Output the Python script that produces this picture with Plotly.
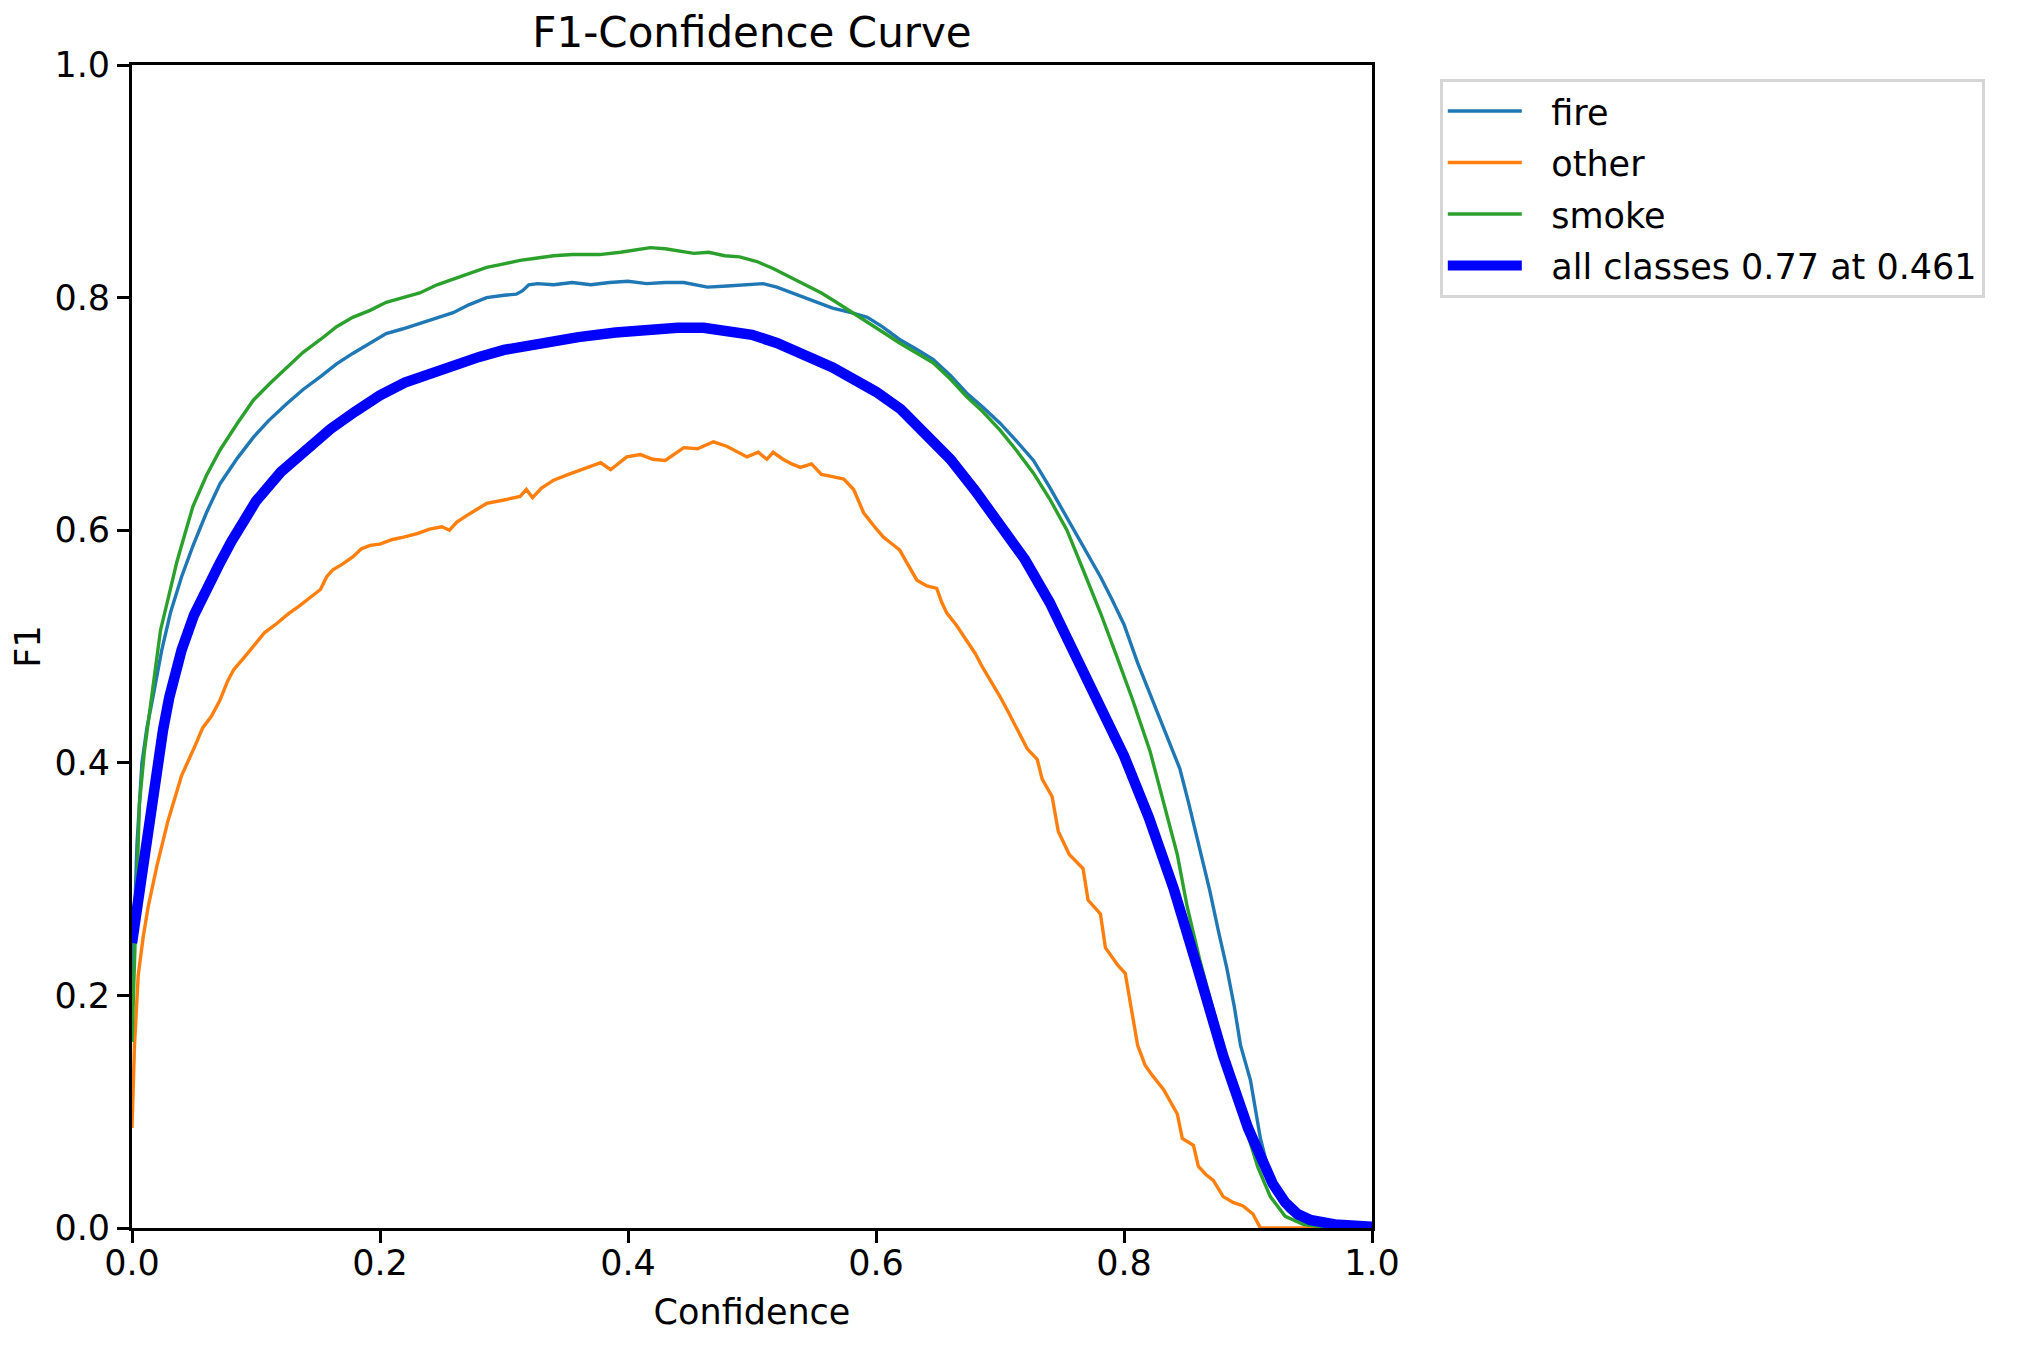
import plotly.graph_objects as go

# ---- data ----
fire_conf = [0.000, 0.004, 0.008, 0.012, 0.017, 0.024, 0.031, 0.040, 0.049, 0.060, 0.071, 0.085, 0.098, 0.110,
             0.125, 0.138, 0.152, 0.165, 0.178, 0.192, 0.205, 0.218, 0.232, 0.245, 0.259, 0.272, 0.286, 0.300,
             0.310, 0.315, 0.320, 0.327, 0.340, 0.355, 0.370, 0.385, 0.400, 0.415, 0.430, 0.445, 0.455, 0.464,
             0.480, 0.495, 0.509, 0.520, 0.530, 0.539, 0.552, 0.565, 0.580, 0.593, 0.605, 0.619, 0.632, 0.646,
             0.660, 0.673, 0.686, 0.700, 0.713, 0.727, 0.740, 0.754, 0.767, 0.781, 0.790, 0.800, 0.811, 0.823,
             0.834, 0.845, 0.852, 0.859, 0.864, 0.869, 0.876, 0.883, 0.889, 0.894, 0.902, 0.906, 0.910, 0.915,
             0.920, 0.925, 0.932, 0.940, 0.950, 0.960, 0.980, 1.000]
fire_f1 = [0.200, 0.330, 0.400, 0.430, 0.457, 0.497, 0.529, 0.560, 0.586, 0.615, 0.640, 0.662, 0.680, 0.694,
           0.709, 0.721, 0.732, 0.743, 0.752, 0.761, 0.769, 0.773, 0.778, 0.782, 0.787, 0.794, 0.800, 0.802,
           0.803, 0.806, 0.811, 0.812, 0.811, 0.813, 0.811, 0.813, 0.814, 0.812, 0.813, 0.813, 0.811, 0.809,
           0.810, 0.811, 0.812, 0.809, 0.805, 0.801, 0.796, 0.791, 0.787, 0.783, 0.775, 0.764, 0.756, 0.747,
           0.733, 0.718, 0.706, 0.692, 0.677, 0.660, 0.637, 0.611, 0.587, 0.560, 0.541, 0.519, 0.486, 0.454,
           0.425, 0.395, 0.366, 0.335, 0.312, 0.291, 0.256, 0.223, 0.190, 0.157, 0.127, 0.100, 0.077, 0.056,
           0.039, 0.025, 0.015, 0.008, 0.004, 0.002, 0.001, 0.000]

other_conf = [0.000, 0.002, 0.005, 0.009, 0.013, 0.020, 0.029, 0.040, 0.051, 0.057, 0.064, 0.071, 0.077, 0.082,
              0.090, 0.098, 0.107, 0.117, 0.126, 0.135, 0.144, 0.152, 0.157, 0.162, 0.170, 0.178, 0.185, 0.192,
              0.200, 0.210, 0.219, 0.230, 0.240, 0.250, 0.256, 0.262, 0.272, 0.286, 0.300, 0.313, 0.318, 0.323,
              0.330, 0.340, 0.352, 0.367, 0.378, 0.386, 0.392, 0.399, 0.410, 0.420, 0.430, 0.438, 0.445, 0.456,
              0.469, 0.480, 0.490, 0.496, 0.505, 0.512, 0.517, 0.525, 0.532, 0.539, 0.548, 0.556, 0.565, 0.574,
              0.582, 0.586, 0.590, 0.598, 0.606, 0.612, 0.619, 0.626, 0.633, 0.641, 0.649, 0.653, 0.657, 0.665,
              0.673, 0.680, 0.686, 0.693, 0.700, 0.707, 0.714, 0.722, 0.730, 0.734, 0.742, 0.747, 0.756, 0.763,
              0.767, 0.771, 0.781, 0.785, 0.795, 0.801, 0.805, 0.811, 0.817, 0.823, 0.832, 0.838, 0.843, 0.847,
              0.856, 0.860, 0.866, 0.872, 0.880, 0.888, 0.896, 0.904, 0.910, 1.000]
other_f1 = [0.086, 0.157, 0.217, 0.250, 0.276, 0.311, 0.350, 0.389, 0.415, 0.430, 0.440, 0.454, 0.470, 0.480,
            0.490, 0.500, 0.512, 0.520, 0.528, 0.535, 0.542, 0.549, 0.560, 0.566, 0.571, 0.577, 0.584, 0.587,
            0.588, 0.592, 0.594, 0.597, 0.601, 0.603, 0.600, 0.607, 0.614, 0.623, 0.626, 0.629, 0.635, 0.628,
            0.636, 0.643, 0.648, 0.654, 0.658, 0.652, 0.657, 0.663, 0.665, 0.661, 0.660, 0.666, 0.671, 0.670,
            0.676, 0.672, 0.666, 0.663, 0.667, 0.661, 0.667, 0.661, 0.657, 0.654, 0.657, 0.648, 0.646, 0.644,
            0.635, 0.624, 0.615, 0.604, 0.594, 0.589, 0.583, 0.570, 0.557, 0.552, 0.550, 0.538, 0.529, 0.518,
            0.505, 0.494, 0.482, 0.470, 0.457, 0.443, 0.428, 0.412, 0.403, 0.386, 0.371, 0.341, 0.321, 0.314,
            0.309, 0.282, 0.270, 0.241, 0.226, 0.219, 0.193, 0.157, 0.140, 0.131, 0.119, 0.108, 0.098, 0.077,
            0.071, 0.053, 0.046, 0.041, 0.027, 0.022, 0.019, 0.012, 0.000, 0.000]

smoke_conf = [0.000, 0.002, 0.004, 0.006, 0.010, 0.013, 0.016, 0.023, 0.030, 0.036, 0.043, 0.049, 0.060, 0.071,
              0.085, 0.098, 0.112, 0.125, 0.138, 0.152, 0.165, 0.178, 0.192, 0.205, 0.218, 0.232, 0.246, 0.260,
              0.273, 0.286, 0.300, 0.313, 0.327, 0.340, 0.355, 0.377, 0.394, 0.405, 0.418, 0.430, 0.442, 0.453,
              0.465, 0.478, 0.490, 0.504, 0.517, 0.530, 0.544, 0.556, 0.568, 0.580, 0.593, 0.606, 0.619, 0.632,
              0.646, 0.660, 0.673, 0.686, 0.700, 0.713, 0.727, 0.740, 0.754, 0.767, 0.781, 0.794, 0.807, 0.821,
              0.832, 0.843, 0.851, 0.861, 0.872, 0.883, 0.891, 0.899, 0.908, 0.918, 0.930, 0.945, 0.960, 1.000]
smoke_f1 = [0.160, 0.230, 0.300, 0.365, 0.410, 0.434, 0.454, 0.514, 0.545, 0.572, 0.598, 0.620, 0.647, 0.669,
            0.692, 0.712, 0.727, 0.740, 0.753, 0.764, 0.775, 0.783, 0.789, 0.796, 0.800, 0.804, 0.811, 0.816,
            0.821, 0.826, 0.829, 0.832, 0.834, 0.836, 0.837, 0.837, 0.839, 0.841, 0.843, 0.842, 0.840, 0.838,
            0.839, 0.836, 0.835, 0.831, 0.825, 0.818, 0.811, 0.804, 0.796, 0.788, 0.779, 0.770, 0.761, 0.753,
            0.744, 0.730, 0.715, 0.702, 0.686, 0.669, 0.649, 0.627, 0.600, 0.566, 0.529, 0.492, 0.454, 0.410,
            0.365, 0.321, 0.276, 0.231, 0.187, 0.143, 0.112, 0.083, 0.052, 0.027, 0.010, 0.003, 0.001, 0.000]

all_conf = [0.000, 0.005, 0.010, 0.015, 0.020, 0.025, 0.030, 0.035, 0.040, 0.050, 0.060, 0.070, 0.080, 0.090,
            0.100, 0.120, 0.140, 0.160, 0.180, 0.200, 0.220, 0.240, 0.260, 0.280, 0.300, 0.330, 0.360, 0.390,
            0.420, 0.440, 0.461, 0.480, 0.500, 0.520, 0.540, 0.565, 0.580, 0.600, 0.620, 0.640, 0.660, 0.680,
            0.700, 0.720, 0.740, 0.760, 0.780, 0.800, 0.820, 0.840, 0.860, 0.880, 0.900, 0.910, 0.920, 0.930,
            0.940, 0.950, 0.970, 1.000]
all_f1 = [0.245, 0.283, 0.322, 0.358, 0.395, 0.428, 0.456, 0.478, 0.497, 0.527, 0.550, 0.570, 0.590, 0.608,
          0.625, 0.650, 0.670, 0.687, 0.702, 0.716, 0.727, 0.735, 0.742, 0.749, 0.755, 0.761, 0.766, 0.770,
          0.773, 0.774, 0.774, 0.772, 0.768, 0.761, 0.752, 0.740, 0.731, 0.719, 0.704, 0.684, 0.661, 0.634,
          0.605, 0.575, 0.538, 0.495, 0.450, 0.406, 0.353, 0.292, 0.221, 0.148, 0.086, 0.060, 0.038, 0.022,
          0.012, 0.007, 0.003, 0.001]

names = ["fire", "other", "smoke", "all classes 0.77 at 0.461"]
tick_vals = [0.0, 0.2, 0.4, 0.6, 0.8, 1.0]
tick_text = ["0.0", "0.2", "0.4", "0.6", "0.8", "1.0"]

FONT = "DejaVu Sans"
FS = 35
W, H = 2000, 1330
PW, PH = 1240, 1163
L, T = 124, 57
R, B = W - L - PW, H - T - PH
GAP = "\u2002\u2009"  # small gap between legend line sample and label, as in the reference

fig = go.Figure()
series = [
    (fire_conf, fire_f1, names[0], "#1f77b4", 3.4),
    (other_conf, other_f1, names[1], "#ff7f0e", 3.4),
    (smoke_conf, smoke_f1, names[2], "#2ca02c", 3.4),
    (all_conf, all_f1, names[3], "#0000ff", 10.5),
]
for i, (xs, ys, nm, col, w) in enumerate(series):
    fig.add_trace(go.Scatter(x=xs, y=ys, mode="lines", name=GAP + nm, legendgroup=f"g{i}",
                             line=dict(color=col, width=w)))

axis_common = dict(
    range=[0, 1], tickmode="array", tickvals=tick_vals, ticktext=tick_text,
    ticks="outside", ticklen=12, tickwidth=2.8, tickcolor="black",
    showline=True, linewidth=2.8, linecolor="black", mirror=True,
    showgrid=False, zeroline=False, tickfont=dict(family=FONT, size=FS, color="black"),
)

fig.update_layout(
    width=W, height=H,
    margin=dict(l=L, r=R, t=T, b=B, autoexpand=False),
    paper_bgcolor="white", plot_bgcolor="white",
    font=dict(family=FONT, size=FS, color="black"),
    title=dict(text="F1-Confidence Curve", x=0.5, xref="paper", xanchor="center",
               y=1 - 24 / H, yref="container", yanchor="middle",
               font=dict(family=FONT, size=42, color="black")),
    xaxis=dict(**axis_common, ticklabelstandoff=-10,
               title=dict(text="Confidence", standoff=18,
                          font=dict(family=FONT, size=FS, color="black"))),
    yaxis=dict(**axis_common, title=dict(text="F1", standoff=14,
                                         font=dict(family=FONT, size=FS, color="black"))),
    legend=dict(x=(1432 - L) / PW, y=1 - (71 - T) / PH, xanchor="left", yanchor="top",
                bgcolor="white", bordercolor="#d6d6d6", borderwidth=2.8,
                font=dict(family=FONT, size=FS, color="black"),
                itemwidth=74, traceorder="grouped", tracegroupgap=3),
    showlegend=True,
)

fig.write_html("out.html")
